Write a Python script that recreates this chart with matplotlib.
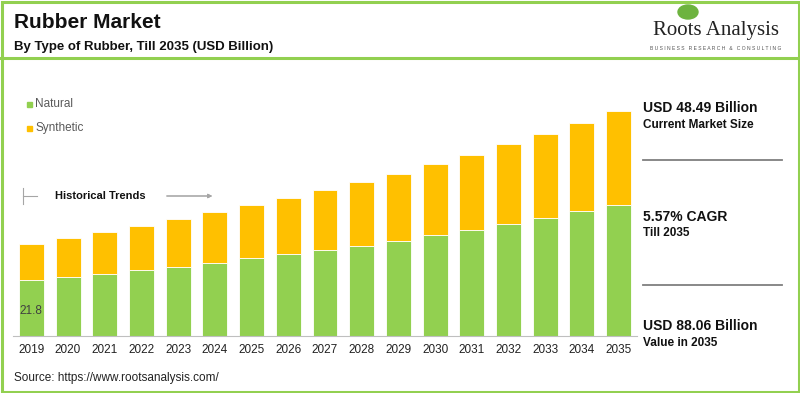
import matplotlib.pyplot as plt
from matplotlib.patches import Rectangle, Ellipse
from matplotlib.lines import Line2D

plt.rcParams['font.family'] = ['Liberation Sans', 'DejaVu Sans']

years = [str(y) for y in range(2019, 2036)]
natural = [21.8, 23.0, 24.1, 25.7, 27.0, 28.6, 30.5, 32.1, 33.8, 35.3,
           37.3, 39.4, 41.5, 43.7, 46.3, 48.9, 51.3]
synthetic = [14.3, 15.4, 16.5, 17.5, 18.8, 19.9, 20.8, 21.9, 23.2, 24.9,
             26.2, 27.8, 29.3, 31.3, 32.8, 34.3, 36.8]

GREEN = '#92D050'
YELLOW = '#FFC000'
W, H = 800, 393


def fx(x):
    return x / W


def fy(y):
    return 1 - y / H


fig = plt.figure(figsize=(8, 3.93), dpi=100)

ax = fig.add_axes([fx(13), fy(336), 624 / W, 236 / H])
xs = range(len(years))
ax.bar(xs, natural, width=0.68, color=GREEN, edgecolor='white', linewidth=0.6)
ax.bar(xs, synthetic, width=0.68, bottom=natural, color=YELLOW,
       edgecolor='white', linewidth=0.6)
ax.set_xlim(-0.5, len(years) - 0.5)
ax.set_ylim(0, 92.4)
ax.set_xticks(list(xs))
ax.set_xticklabels(years, fontsize=8.5, color='#222222')
ax.tick_params(axis='x', length=0, pad=6)
ax.set_yticks([])
for s in ['top', 'right', 'left']:
    ax.spines[s].set_visible(False)
ax.spines['bottom'].set_color('#BFBFBF')
ax.text(0, natural[0] * 0.45, f'{natural[0]}', ha='center', va='center',
        fontsize=8.5, color='#404040')

# border and header line
fig.patches.append(Rectangle((fx(1.5), fy(391.5)), fx(797), 1 - 3 / H,
                             transform=fig.transFigure, fill=False,
                             edgecolor=GREEN, linewidth=2.2))
fig.lines.append(Line2D([0, 1], [fy(58), fy(58)], transform=fig.transFigure,
                        color=GREEN, linewidth=2.2))

# titles
fig.text(fx(14), fy(22), 'Rubber Market', fontsize=15, fontweight='bold',
         va='center', color='#111111')
fig.text(fx(14), fy(47), 'By Type of Rubber, Till 2035 (USD Billion)',
         fontsize=9.5, fontweight='bold', va='center', color='#111111')

# logo
fig.patches.append(Ellipse((fx(688), fy(12)), 20 / W, 14 / H,
                           transform=fig.transFigure, color='#6DB33F'))
fig.text(fx(716), fy(30), 'Roots Analysis', fontsize=15,
         family=['Liberation Serif', 'DejaVu Serif'], ha='center',
         va='center', color='#222222')
fig.text(fx(716), fy(49), 'B U S I N E S S   R E S E A R C H   &   C O N S U L T I N G',
         fontsize=3.6, ha='center', va='center', color='#555555')

# legend
fig.patches.append(Rectangle((fx(27), fy(106.5)), 5 / W, 5 / H,
                             transform=fig.transFigure, color=GREEN))
fig.text(fx(35), fy(104), 'Natural', fontsize=8.5, va='center', color='#595959')
fig.patches.append(Rectangle((fx(27), fy(130.5)), 5 / W, 5 / H,
                             transform=fig.transFigure, color=YELLOW))
fig.text(fx(35), fy(128), 'Synthetic', fontsize=8.5, va='center', color='#595959')

# historical trends
fig.lines.append(Line2D([fx(23), fx(23)], [fy(188), fy(204)],
                        transform=fig.transFigure, color='#A6A6A6', linewidth=0.8))
fig.lines.append(Line2D([fx(23), fx(37)], [fy(196), fy(196)],
                        transform=fig.transFigure, color='#A6A6A6', linewidth=0.8))
fig.text(fx(55), fy(196), 'Historical Trends', fontsize=8, fontweight='bold',
         va='center', color='#111111')
fig.add_artist(plt.annotate('', xy=(fx(215), fy(196)), xytext=(fx(164), fy(196)),
                            xycoords='figure fraction',
                            arrowprops=dict(arrowstyle='-|>', color='#A6A6A6',
                                            lw=0.8, mutation_scale=6)))

# right panel
rx = fx(643)
fig.text(rx, fy(108), 'USD 48.49 Billion', fontsize=10, fontweight='bold',
         va='center', color='#111111')
fig.text(rx, fy(125), 'Current Market Size', fontsize=8.5, fontweight='bold',
         va='center', color='#111111')
fig.lines.append(Line2D([rx, fx(782)], [fy(160), fy(160)],
                        transform=fig.transFigure, color='#7F7F7F', linewidth=1.3))
fig.text(rx, fy(217), '5.57% CAGR', fontsize=10, fontweight='bold',
         va='center', color='#111111')
fig.text(rx, fy(233), 'Till 2035', fontsize=8.5, fontweight='bold',
         va='center', color='#111111')
fig.lines.append(Line2D([rx, fx(782)], [fy(285), fy(285)],
                        transform=fig.transFigure, color='#7F7F7F', linewidth=1.3))
fig.text(rx, fy(326), 'USD 88.06 Billion', fontsize=10, fontweight='bold',
         va='center', color='#111111')
fig.text(rx, fy(343), 'Value in 2035', fontsize=8.5, fontweight='bold',
         va='center', color='#111111')

fig.text(fx(14), fy(378), 'Source: https://www.rootsanalysis.com/', fontsize=8.5,
         va='center', color='#222222')

fig.savefig('out.png', dpi=100)
